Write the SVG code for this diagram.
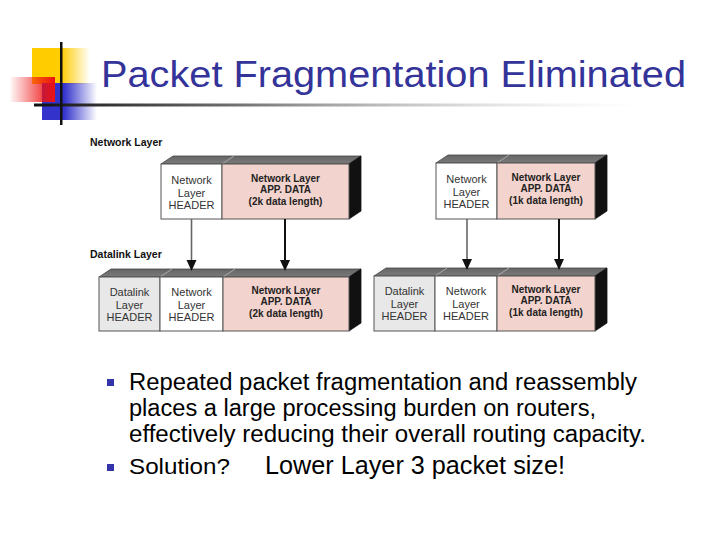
<svg xmlns="http://www.w3.org/2000/svg" width="720" height="540" viewBox="0 0 720 540">
<defs>
  <linearGradient id="gYellow" x1="0" y1="0" x2="1" y2="0">
    <stop offset="0" stop-color="#ffcc00"/>
    <stop offset="0.5" stop-color="#ffcc00"/>
    <stop offset="1" stop-color="#ffcc00" stop-opacity="0"/>
  </linearGradient>
  <linearGradient id="gBlue" x1="0" y1="0" x2="1" y2="0">
    <stop offset="0" stop-color="#3333cc"/>
    <stop offset="0.4" stop-color="#3333cc"/>
    <stop offset="1" stop-color="#3333cc" stop-opacity="0"/>
  </linearGradient>
  <linearGradient id="gRed" x1="0" y1="0" x2="1" y2="0">
    <stop offset="0" stop-color="#ee1111" stop-opacity="0.02"/>
    <stop offset="0.7" stop-color="#ee1111" stop-opacity="0.75"/>
    <stop offset="1" stop-color="#ee1111"/>
  </linearGradient>
  <linearGradient id="gRule" x1="0" y1="0" x2="1" y2="0">
    <stop offset="0" stop-color="#111111"/>
    <stop offset="0.35" stop-color="#777777"/>
    <stop offset="1" stop-color="#dddddd" stop-opacity="0"/>
  </linearGradient>
  <linearGradient id="gTop" x1="0" y1="0" x2="0" y2="1">
    <stop offset="0" stop-color="#666666"/>
    <stop offset="1" stop-color="#7a7a7a"/>
  </linearGradient>
</defs>
<style>
  .title { font-family: "Liberation Sans", Arial, sans-serif; font-size: 36px; fill: #333399; }
  .sect { font-family: "Liberation Sans", Arial, sans-serif; font-size: 10.5px; font-weight: bold; fill: #111111; }
  .hdr { font-family: "Liberation Sans", Arial, sans-serif; font-size: 11px; fill: #333333; text-anchor: middle; }
  .dat { font-family: "Liberation Sans", Arial, sans-serif; font-size: 10px; font-weight: bold; fill: #222222; text-anchor: middle; }
  .body { font-family: "Liberation Sans", Arial, sans-serif; font-size: 23px; fill: #000000; }
  .top { fill: url(#gTop); stroke: #444444; stroke-width: 0.8; }
  .side { fill: #111111; stroke: #111111; stroke-width: 0.8; }
  .white { fill: #ffffff; stroke: #555555; stroke-width: 1; }
  .pink { fill: #f3d3cd; stroke: #555555; stroke-width: 1; }
  .grey { fill: #e8e8e8; stroke: #555555; stroke-width: 1; }
  .edge { stroke: #bbbbbb; stroke-width: 0.8; fill: none; }
  .bullet { fill: #3333aa; }
  .arrG { stroke: #666666; stroke-width: 1.6; fill: none; }
  .arrD { stroke: #111111; stroke-width: 2; fill: none; }
  .head { fill: #111111; }
</style>

<!-- decoration -->
<g id="decoration">
  <rect x="32" y="48" width="58" height="36" fill="url(#gYellow)"/>
  <rect x="42" y="83" width="55" height="37" fill="url(#gBlue)"/>
  <rect x="10" y="77" width="45" height="25" fill="url(#gRed)"/>
  <rect x="34" y="103.5" width="610" height="3" fill="url(#gRule)"/>
  <rect x="60" y="42" width="2.5" height="83" fill="#111111"/>
</g>

<text id="title" class="title" x="101" y="87" textLength="585" lengthAdjust="spacingAndGlyphs">Packet Fragmentation Eliminated</text>

<text id="label-network" class="sect" x="90" y="146">Network Layer</text>
<text id="label-datalink" class="sect" x="90" y="258">Datalink Layer</text>

<!-- Top-left packet -->
<g id="pkt-net-2k">
  <polygon class="top" points="161,164 173,156 361,156 349,164"/>
  <polygon class="side" points="349,164 361,156 361,211 349,219"/>
  <line class="edge" x1="222" y1="164" x2="234" y2="156"/>
  <rect class="white" x="161" y="164" width="61" height="55"/>
  <rect class="pink" x="222" y="164" width="127" height="55"/>
  <text class="hdr" x="191.5" y="184">Network</text>
  <text class="hdr" x="191.5" y="197">Layer</text>
  <text class="hdr" x="191.5" y="209">HEADER</text>
  <text class="dat" x="285.5" y="182">Network Layer</text>
  <text class="dat" x="285.5" y="193">APP. DATA</text>
  <text class="dat" x="285.5" y="205">(2k data length)</text>
</g>

<!-- Top-right packet -->
<g id="pkt-net-1k">
  <polygon class="top" points="436,163 448,155 607,155 595,163"/>
  <polygon class="side" points="595,163 607,155 607,211 595,219"/>
  <line class="edge" x1="497" y1="163" x2="509" y2="155"/>
  <rect class="white" x="436" y="163" width="61" height="56"/>
  <rect class="pink" x="497" y="163" width="98" height="56"/>
  <text class="hdr" x="466.5" y="183">Network</text>
  <text class="hdr" x="466.5" y="196">Layer</text>
  <text class="hdr" x="466.5" y="208">HEADER</text>
  <text class="dat" x="546" y="181">Network Layer</text>
  <text class="dat" x="546" y="192">APP. DATA</text>
  <text class="dat" x="546" y="204">(1k data length)</text>
</g>

<!-- Bottom-left packet -->
<g id="pkt-dl-2k">
  <polygon class="top" points="99,277 111,269 361,269 349,277"/>
  <polygon class="side" points="349,277 361,269 361,323 349,331"/>
  <line class="edge" x1="160" y1="277" x2="172" y2="269"/>
  <line class="edge" x1="223" y1="277" x2="235" y2="269"/>
  <rect class="grey" x="99" y="277" width="61" height="54"/>
  <rect class="white" x="160" y="277" width="63" height="54"/>
  <rect class="pink" x="223" y="277" width="126" height="54"/>
  <text class="hdr" x="129.5" y="296">Datalink</text>
  <text class="hdr" x="129.5" y="309">Layer</text>
  <text class="hdr" x="129.5" y="321">HEADER</text>
  <text class="hdr" x="191.5" y="296">Network</text>
  <text class="hdr" x="191.5" y="309">Layer</text>
  <text class="hdr" x="191.5" y="321">HEADER</text>
  <text class="dat" x="286" y="294">Network Layer</text>
  <text class="dat" x="286" y="305">APP. DATA</text>
  <text class="dat" x="286" y="317">(2k data length)</text>
</g>

<!-- Bottom-right packet -->
<g id="pkt-dl-1k">
  <polygon class="top" points="374,276 386,268 607,268 595,276"/>
  <polygon class="side" points="595,276 607,268 607,323 595,331"/>
  <line class="edge" x1="435" y1="276" x2="447" y2="268"/>
  <line class="edge" x1="497" y1="276" x2="509" y2="268"/>
  <rect class="grey" x="374" y="276" width="61" height="55"/>
  <rect class="white" x="435" y="276" width="62" height="55"/>
  <rect class="pink" x="497" y="276" width="98" height="55"/>
  <text class="hdr" x="404.5" y="295">Datalink</text>
  <text class="hdr" x="404.5" y="308">Layer</text>
  <text class="hdr" x="404.5" y="320">HEADER</text>
  <text class="hdr" x="466" y="295">Network</text>
  <text class="hdr" x="466" y="308">Layer</text>
  <text class="hdr" x="466" y="320">HEADER</text>
  <text class="dat" x="546" y="293">Network Layer</text>
  <text class="dat" x="546" y="304">APP. DATA</text>
  <text class="dat" x="546" y="316">(1k data length)</text>
</g>

<!-- connectors -->
<g id="connectors">
  <line class="arrG" x1="191.5" y1="219" x2="191.5" y2="262"/>
  <polygon class="head" points="186.5,260 196.5,260 191.5,271"/>
  <line class="arrD" x1="285" y1="219" x2="285" y2="262"/>
  <polygon class="head" points="280,260 290,260 285,271"/>
  <line class="arrG" x1="467" y1="219" x2="467" y2="261"/>
  <polygon class="head" points="462,259 472,259 467,270"/>
  <line class="arrD" x1="559" y1="219" x2="559" y2="261"/>
  <polygon class="head" points="554,259 564,259 559,270"/>
</g>

<!-- bullets -->
<g id="bullets">
  <rect class="bullet" x="107" y="379" width="7" height="7"/>
  <text class="body" x="129" y="390" textLength="508" lengthAdjust="spacingAndGlyphs">Repeated packet fragmentation and reassembly</text>
  <text class="body" x="129" y="416" textLength="467" lengthAdjust="spacingAndGlyphs">places a large processing burden on routers,</text>
  <text class="body" x="129" y="442" textLength="517" lengthAdjust="spacingAndGlyphs">effectively reducing their overall routing capacity.</text>
  <rect class="bullet" x="107" y="464" width="7" height="7"/>
  <text class="body" x="129" y="474" style="font-size:22px" textLength="101" lengthAdjust="spacingAndGlyphs">Solution?</text>
  <text class="body" x="265" y="474" style="font-size:26px" textLength="300" lengthAdjust="spacingAndGlyphs">Lower Layer 3 packet size!</text>
</g>
</svg>
